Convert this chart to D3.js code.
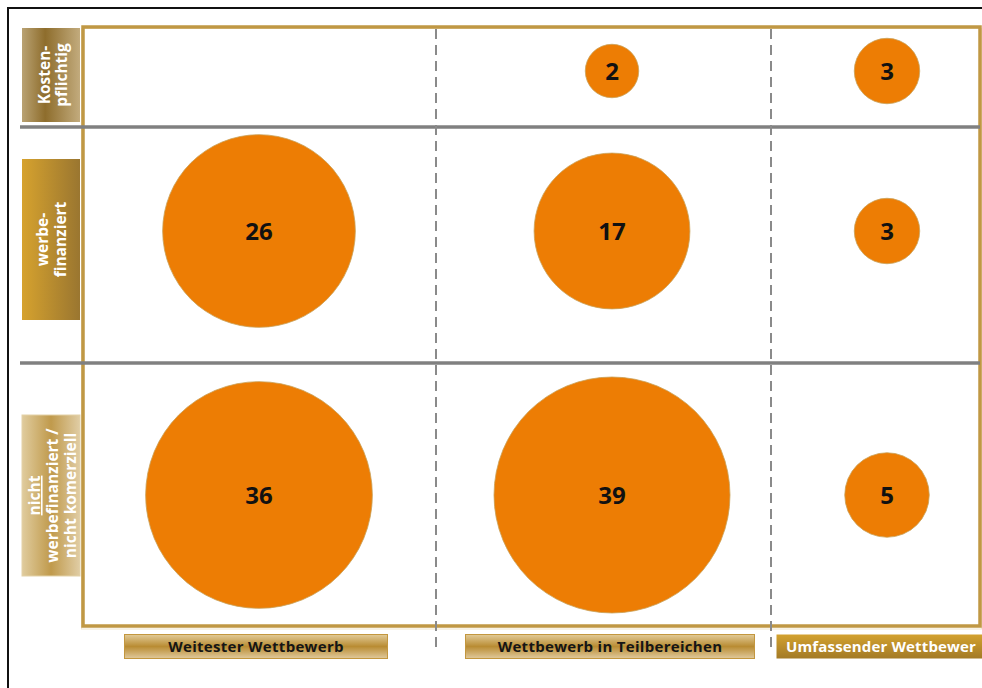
<!DOCTYPE html>
<html>
<head>
<meta charset="utf-8">
<script src="https://cdn.jsdelivr.net/npm/d3@7"></script>
<style>
  html, body { margin: 0; padding: 0; background: #fff; }
  svg { display: block; }
  text { font-family: "Open Sans", "DejaVu Sans", sans-serif; font-weight: 700; }
</style>
</head>
<body>
<svg id="chart" width="982" height="688"></svg>
<script>
// Finanzierungsform (rows) x Wettbewerbsintensität (columns)
const rowLabels = [
  ["Kosten-", "pflichtig"],
  ["werbe-", "finanziert"],
  ["nicht", "werbefinanziert /", "nicht komerziell"]
];
const colLabels = ["Weitester Wettbewerb", "Wettbewerb in Teilbereichen", "Umfassender Wettbewer"];

// Counts per cell, one array per row (null = no entry)
const kostenpflichtig = [null, 2, 3];
const werbefinanziert = [26, 17, 3];
const nichtWerbefinanziert = [36, 39, 5];

// ---- layout ----
const W = 982, H = 688;
const frame = { left: 83, top: 27, right: 980, bottom: 626 };
const colCenters = [259, 612, 887];
const rowCenters = [71, 231, 495];
const colDividers = [436, 771];
const rowDividers = [127, 363];
const rowBoxes = [[28, 122], [159, 320], [415, 576]];
const colBoxes = [[124, 388], [465, 755], [776, 1000]];

const svg = d3.select("#chart");
const defs = svg.append("defs");

function hGrad(id, stops) {
  const g = defs.append("linearGradient").attr("id", id)
    .attr("x1", "0%").attr("x2", "100%").attr("y1", "0%").attr("y2", "0%");
  stops.forEach(([o, c]) => g.append("stop").attr("offset", o).attr("stop-color", c));
}
function vGrad(id, stops) {
  const g = defs.append("linearGradient").attr("id", id)
    .attr("x1", "0%").attr("x2", "0%").attr("y1", "0%").attr("y2", "100%");
  stops.forEach(([o, c]) => g.append("stop").attr("offset", o).attr("stop-color", c));
}
hGrad("row0", [["0%", "#b9a273"], ["40%", "#8e6d2c"], ["100%", "#c2ab7d"]]);
hGrad("row1", [["0%", "#d6a22e"], ["100%", "#9a7630"]]);
hGrad("row2", [["0%", "#e0cc9e"], ["50%", "#c09a4c"], ["100%", "#e0cda5"]]);
vGrad("colLight", [["0%", "#e2cb98"], ["50%", "#b98c33"], ["100%", "#e0c99c"]]);
vGrad("colDark", [["0%", "#d3a230"], ["100%", "#a37a26"]]);

// white page with black outer frame
svg.append("rect").attr("width", W).attr("height", H).attr("fill", "#fff");
svg.append("rect").attr("x", 8).attr("y", 8).attr("width", W + 20).attr("height", H + 20)
  .attr("fill", "none").attr("stroke", "#111").attr("stroke-width", 2);

// scales
const x = d3.scaleOrdinal().domain(colLabels).range(colCenters);
const y = d3.scaleOrdinal().domain(rowLabels.map(d => d.join(" "))).range(rowCenters);
const r = d3.scaleSqrt().domain([0, 39]).range([0, 118]);

// gold frame
svg.append("rect")
  .attr("x", frame.left - 1.5).attr("y", frame.top + 1.5)
  .attr("width", frame.right - frame.left + 3).attr("height", frame.bottom - frame.top + 1.5)
  .attr("fill", "none").attr("stroke", "#f1e6cc").attr("stroke-width", 1);
svg.append("rect")
  .attr("x", frame.left).attr("y", frame.top)
  .attr("width", frame.right - frame.left).attr("height", frame.bottom - frame.top)
  .attr("fill", "none").attr("stroke", "#c09844").attr("stroke-width", 3.5);

// gray row separators
svg.selectAll("line.rowsep").data(rowDividers).join("line")
  .attr("class", "rowsep")
  .attr("x1", 20).attr("x2", frame.right)
  .attr("y1", d => d).attr("y2", d => d)
  .attr("stroke", "#808080").attr("stroke-width", 3.5);

// dashed column separators
svg.selectAll("line.colsep").data(colDividers).join("line")
  .attr("class", "colsep")
  .attr("x1", d => d).attr("x2", d => d)
  .attr("y1", frame.top + 2).attr("y2", 652)
  .attr("stroke", "#8a8a8a").attr("stroke-width", 2)
  .attr("stroke-dasharray", "10,6");

// row label boxes
rowLabels.forEach((lines, i) => {
  const [y0, y1] = rowBoxes[i];
  svg.append("rect").attr("x", 22).attr("y", y0).attr("width", 58).attr("height", y1 - y0)
    .attr("fill", `url(#row${i})`).attr("stroke", i === 2 ? "#e3d2a8" : "none").attr("stroke-width", 1);
  const cx = 51, cy = (y0 + y1) / 2;
  const g = svg.append("g").attr("transform", `translate(${cx},${cy}) rotate(-90)`);
  const baselines = i === 0 ? [-1, 16] : i === 1 ? [-3, 15] : [-11, 7, 25];
  lines.forEach((t, j) => {
    g.append("text").attr("x", 0).attr("y", baselines[j])
      .attr("text-anchor", "middle").attr("fill", "#fff").attr("font-size", 15.5)
      .attr("text-decoration", i === 2 && j === 0 ? "underline" : null)
      .text(t);
  });
});

// column label boxes
colLabels.forEach((t, i) => {
  const [x0, x1] = colBoxes[i];
  const dark = i === 2;
  svg.append("rect").attr("x", x0 + 0.5).attr("y", 634.5).attr("width", x1 - x0 - 1).attr("height", 24)
    .attr("fill", dark ? "url(#colDark)" : "url(#colLight)")
    .attr("stroke", dark ? "none" : "#c3973f").attr("stroke-width", 1);
  svg.append("text")
    .attr("x", dark ? 786 : (x0 + x1) / 2).attr("y", 652)
    .attr("text-anchor", dark ? "start" : "middle")
    .attr("fill", dark ? "#fff" : "#151515").attr("font-size", 15)
    .attr("letter-spacing", dark ? 0.15 : 0.3)
    .text(t);
});

// bubbles
const cells = [];
[kostenpflichtig, werbefinanziert, nichtWerbefinanziert].forEach((vals, i) => {
  vals.forEach((v, j) => {
    if (v != null) cells.push({ row: rowLabels[i].join(" "), col: colLabels[j], value: v });
  });
});

const bubble = svg.selectAll("g.bubble").data(cells).join("g").attr("class", "bubble")
  .attr("transform", d => `translate(${x(d.col)},${y(d.row)})`);
bubble.append("circle")
  .attr("r", d => r(d.value))
  .attr("fill", "#ed7d04").attr("stroke", "#c9a25a").attr("stroke-width", 0.8);
bubble.append("text")
  .attr("text-anchor", "middle").attr("y", 9)
  .attr("font-size", 24).attr("fill", "#111")
  .text(d => d.value);
</script>
</body>
</html>
